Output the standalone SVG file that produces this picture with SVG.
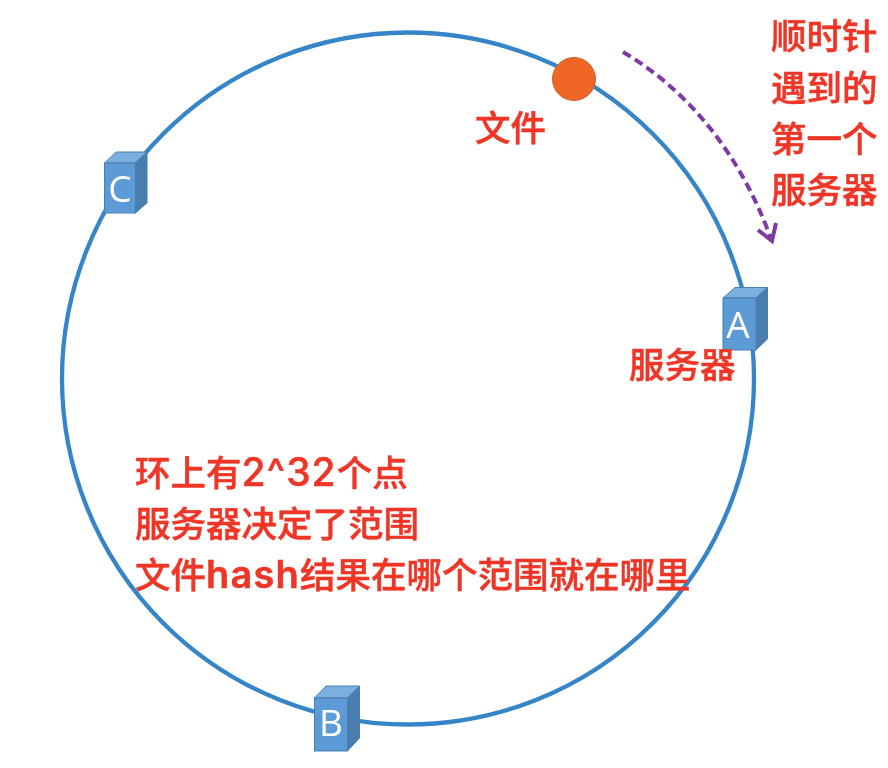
<svg xmlns="http://www.w3.org/2000/svg" width="888" height="768" viewBox="0 0 888 768">
<defs>
<filter id="soft" x="-5%" y="-5%" width="110%" height="110%"><feGaussianBlur stdDeviation="0.5"/></filter>
</defs>
<style>
.front{fill:#5B9BD5;stroke:#4A7FB0;stroke-width:1}
.top{fill:#7CAFDD;stroke:#4A7FB0;stroke-width:1}
.side{fill:#497DAE;stroke:#4A7FB0;stroke-width:1}
.letter{font-family:"Open Sans","Liberation Sans",sans-serif;font-size:37px;fill:#fff;text-anchor:middle}
.red{font-family:"Noto Sans CJK SC",sans-serif;font-size:35.500px;font-weight:500;fill:#EE3528;stroke:#EE3528;stroke-width:0.500}
.num{font-family:Inter,sans-serif;font-size:39px;font-weight:500;letter-spacing:1px}
.word{font-family:Inter,sans-serif;font-size:38px;font-weight:600;letter-spacing:1.200px}
</style>
<rect width="888" height="768" fill="#fff"/>
<g id="connectors" filter="url(#soft)">
<circle id="ring" cx="408" cy="378.500" r="346" fill="none" stroke="#3585C8" stroke-width="4.300"/>
<path id="clockwise-arrow" d="M623 52C688 90 741 155 771 239" fill="none" stroke="#7D3AA3" stroke-width="4" stroke-dasharray="9 5"/>
<path d="M758 230L772 241L776 223" fill="none" stroke="#7D3AA3" stroke-width="4"/>
</g>
<g id="server-c" filter="url(#soft)">
<polygon class="top" points="104.500,163 116,152 147,152 135.500,163"/>
<polygon class="side" points="135.500,163 147,152 147,203 135.500,213"/>
<rect class="front" x="104.500" y="163" width="31" height="50"/>
<text class="letter" x="120" y="202">C</text>
</g>
<g id="server-a" filter="url(#soft)">
<polygon class="top" points="723,298 735,287.500 767.500,287.500 756,298"/>
<polygon class="side" points="756,298 767.500,287.500 767.500,339 756,350"/>
<rect class="front" x="723" y="298" width="33" height="52"/>
<text class="letter" x="738" y="338">A</text>
</g>
<g id="server-b" filter="url(#soft)">
<polygon class="top" points="314.500,698 326,686 359.500,686 347.500,698"/>
<polygon class="side" points="347.500,698 359.500,686 359.500,738 347.500,751"/>
<rect class="front" x="314.500" y="698" width="33" height="53"/>
<text class="letter" x="331" y="736">B</text>
</g>
<g id="file-dot" filter="url(#soft)">
<circle cx="574" cy="79" r="21.500" fill="#EE6527" stroke="#C8662C" stroke-width="1"/>
</g>
<g id="labels" filter="url(#soft)">
<text class="red" x="475" y="141">文件</text>
<text class="red" x="629" y="378">服务器</text>
<text class="red" x="771" y="49">顺时针</text>
<text class="red" x="771" y="101">遇到的</text>
<text class="red" x="771" y="152">第一个</text>
<text class="red" x="771" y="203">服务器</text>
<text class="red" x="135" y="486">环上有<tspan class="num">2^32</tspan>个点</text>
<text class="red" x="135" y="537">服务器决定了范围</text>
<text class="red" x="135" y="588">文件<tspan class="word">hash</tspan>结果在哪个范围就在哪里</text>
</g>
</svg>
